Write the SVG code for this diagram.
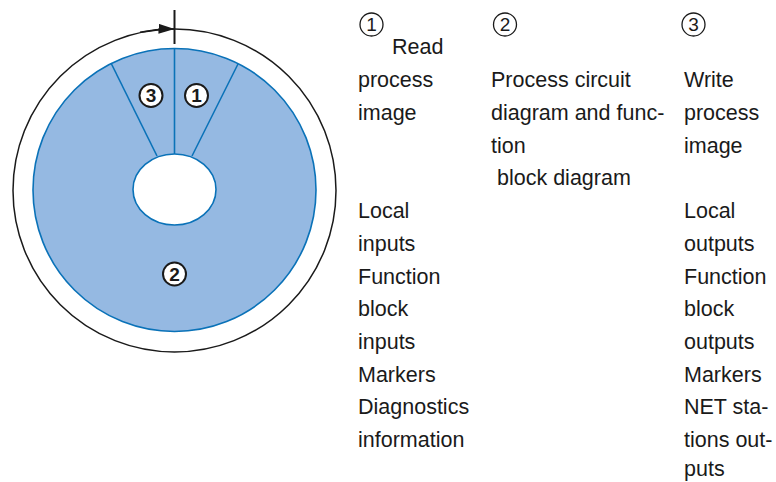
<svg xmlns="http://www.w3.org/2000/svg" width="776" height="482" viewBox="0 0 776 482">
<style>
.t{font-family:"Liberation Sans",Arial,sans-serif;font-size:21.5px;fill:#1a1a1a}
.num{font-family:"Liberation Sans Narrow","Liberation Sans",sans-serif;font-size:19px;font-weight:bold;fill:#1a1a1a;text-anchor:middle}
.hnum{font-family:"Liberation Sans Narrow","Liberation Sans",sans-serif;font-size:19px;fill:#1a1a1a;text-anchor:middle}
.badge{fill:#fff;stroke:#1a1a1a;stroke-width:2}
.hbadge{fill:none;stroke:#1a1a1a;stroke-width:1.3}
.blue{stroke:#0a72b8;stroke-width:1.6}
</style>
<defs>
<marker id="arr" markerWidth="16" markerHeight="10" refX="16" refY="5" orient="auto" markerUnits="userSpaceOnUse">
<path d="M0,0 L16,5 L0,10 Z" fill="#1a1a1a"/>
</marker>
</defs>
<rect width="776" height="482" fill="#fff"/>
<g id="cycle">
<circle cx="174.5" cy="190.5" r="161.5" fill="none" stroke="#1a1a1a" stroke-width="1.5"/>
<path d="M140,32.2 A161.5 161.5 0 0 1 174.5,29" fill="none" stroke="#1a1a1a" stroke-width="1.5" marker-end="url(#arr)"/>
<line x1="174.5" y1="10" x2="174.5" y2="44" stroke="#1a1a1a" stroke-width="2"/>
</g>
<g id="disk">
<circle cx="174.5" cy="190" r="141.5" fill="#95b9e2" class="blue"/>
<ellipse cx="174.5" cy="189.5" rx="41.5" ry="35.5" fill="#fff" class="blue"/>
</g>
<g id="connectors">
<line x1="174.5" y1="48.5" x2="174.5" y2="154" class="blue"/>
<line x1="111" y1="63" x2="157" y2="156" class="blue"/>
<line x1="238" y1="64" x2="192" y2="156" class="blue"/>
</g>
<g id="seg3"><circle cx="151" cy="95.5" r="11.5" class="badge"/><text x="151" y="102.3" class="num">3</text></g>
<g id="seg1"><circle cx="196.5" cy="95.5" r="11.5" class="badge"/><text x="196.5" y="102.3" class="num">1</text></g>
<g id="seg2"><circle cx="174.5" cy="274" r="11.5" class="badge"/><text x="174.5" y="280.8" class="num">2</text></g>
<g id="col1">
<circle cx="371.5" cy="24.5" r="11.5" class="hbadge"/><text x="371.5" y="31.3" class="hnum">1</text>
<text class="t" x="392" y="54">Read</text>
<text class="t" x="358" y="87">process</text>
<text class="t" x="358" y="120">image</text>
<text class="t" x="358" y="218">Local</text>
<text class="t" x="358" y="250.8">inputs</text>
<text class="t" x="358" y="283.5">Function</text>
<text class="t" x="358" y="316.2">block</text>
<text class="t" x="358" y="348.9">inputs</text>
<text class="t" x="358" y="381.6">Markers</text>
<text class="t" x="358" y="414.3">Diagnostics</text>
<text class="t" x="358" y="447">information</text>
</g>
<g id="col2">
<circle cx="505" cy="24.5" r="11.5" class="hbadge"/><text x="505" y="31.3" class="hnum">2</text>
<text class="t" x="491" y="87">Process circuit</text>
<text class="t" x="491" y="120">diagram and func-</text>
<text class="t" x="491" y="152.7">tion</text>
<text class="t" x="497" y="185.4">block diagram</text>
</g>
<g id="col3">
<circle cx="693.5" cy="24.5" r="11.5" class="hbadge"/><text x="693.5" y="31.3" class="hnum">3</text>
<text class="t" x="684" y="87">Write</text>
<text class="t" x="684" y="120">process</text>
<text class="t" x="684" y="152.7">image</text>
<text class="t" x="684" y="218">Local</text>
<text class="t" x="684" y="250.8">outputs</text>
<text class="t" x="684" y="283.5">Function</text>
<text class="t" x="684" y="316.2">block</text>
<text class="t" x="684" y="348.9">outputs</text>
<text class="t" x="684" y="381.6">Markers</text>
<text class="t" x="684" y="414.3">NET sta-</text>
<text class="t" x="684" y="447">tions out-</text>
<text class="t" x="684" y="476">puts</text>
</g>
</svg>
